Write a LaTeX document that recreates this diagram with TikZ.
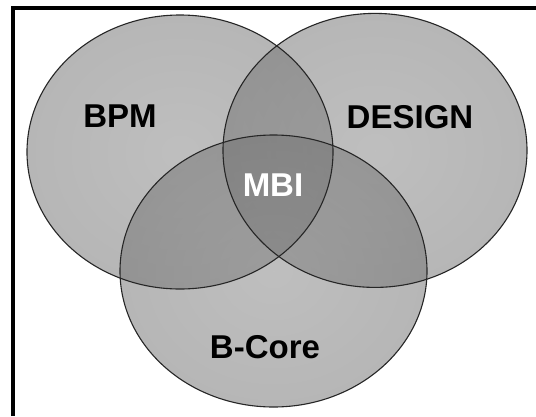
\documentclass[tikz,border=0pt]{standalone}
\usepackage{fontspec}
\setmainfont{Liberation Sans}
\usetikzlibrary{shapes.geometric}
\pgfdeclareradialshading{vennrad}{\pgfpoint{0bp}{0bp}}{color(0bp)=(black!48); color(30bp)=(black!56); color(50bp)=(black!66)}
\tikzset{
  setfill/.style={ellipse, inner sep=0pt, draw=none, shade, shading=vennrad, fill opacity=0.52},
  setline/.style={draw=black!85, line width=1.1pt},
  vlabel/.style={inner sep=0pt, anchor=base, font=\bfseries\fontsize{33}{40}\selectfont}
}
\begin{document}
\begin{tikzpicture}[x=1pt,y=1pt]
\fill[white] (0,0) rectangle (536,-416);
\useasboundingbox (0,0) rectangle (536,-416);
% frame (only top and left edges visible)
\coordinate (fbl) at (13,-416);
\coordinate (ftr) at (536,-7.7);
\draw[line width=3.6pt] (fbl) |- (ftr);
% set fills
\node[setfill, minimum width=306pt, minimum height=274pt] (bpm) at (180,-152) {};
\node[setfill, minimum width=304pt, minimum height=274pt] (design) at (375,-150.4) {};
\node[setfill, minimum width=307pt, minimum height=272pt] (bcore) at (273.5,-271) {};
% outlines
\draw[setline] (bpm.center) ellipse [x radius=153, y radius=137];
\draw[setline] (design.center) ellipse [x radius=152, y radius=137];
\draw[setline] (bcore.center) ellipse [x radius=153.5, y radius=136];
% labels
\node[vlabel] (lbpm) at (120,-127) {BPM};
\node[vlabel] (ldesign) at (410,-128.3) {DESIGN};
\node[vlabel, text=white] (lmbi) at (273,-196) {MBI};
\node[vlabel] (lbcore) at (265,-358) {B-Core};
\end{tikzpicture}
\end{document}
